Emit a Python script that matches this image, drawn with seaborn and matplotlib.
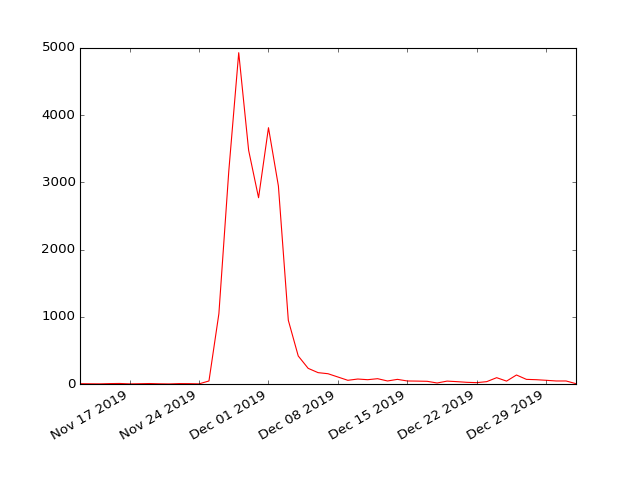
import pandas as pd
import numpy as np
import matplotlib
matplotlib.use('Agg')
import matplotlib.pyplot as plt
import matplotlib.dates as mdates
import seaborn as sns

plt.style.use('classic')

# daily counts, Nov 12 2019 .. Jan 01 2020
start_date = '2019-11-12'
end_date = '2020-01-01'
counts = [5, 3, 2, 6, 8, 2, 4, 7, 3, 1, 6, 5, 2,      # Nov 12 - Nov 24
          45, 1046, 3170, 4930, 3477, 2772,            # Nov 25 - Nov 30
          3814, 2946, 948, 417, 233, 169, 153, 104,    # Dec 01 - Dec 08
          55, 74, 64, 79, 45, 69, 45, 43, 40, 15,      # Dec 09 - Dec 18
          43, 35, 25, 20, 35, 94, 43, 134, 69, 64,     # Dec 19 - Dec 28
          55, 45, 45, 5]                               # Dec 29 - Jan 01

dates = pd.date_range(start_date, end_date, freq='D')

fig, ax = plt.subplots(figsize=(8, 6), dpi=80)
sns.lineplot(x=dates, y=counts, color='red', linewidth=1.0, ax=ax)

ax.xaxis.set_major_locator(mdates.WeekdayLocator(byweekday=mdates.SU))
ax.xaxis.set_major_formatter(mdates.DateFormatter('%b %d %Y'))
ax.set_xlim(dates[0], dates[-1])
ax.set_ylim(0, 5000)
ax.set_xlabel('')
ax.set_ylabel('')
fig.autofmt_xdate()

plt.savefig('out.png', dpi=80)
